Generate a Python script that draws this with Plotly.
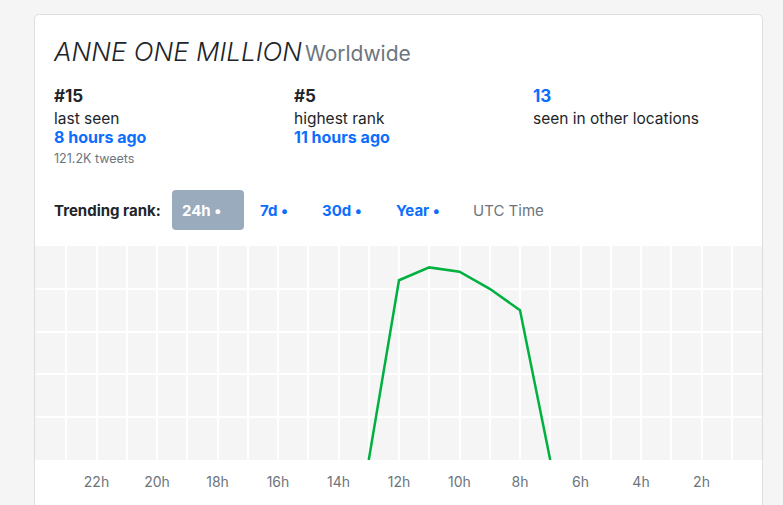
import plotly.graph_objects as go

# ---- data ----
hours_ago = [13, 12, 11, 10, 9, 8, 7]
ranks = [50, 8, 5, 6, 10, 15, 50]
tick_hours = [22, 20, 18, 16, 14, 12, 10, 8, 6, 4, 2]
tick_labels = [f"{h}h" for h in tick_hours]

title_main = "ANNE ONE MILLION"
title_loc = "Worldwide"
stats = [
    ("#15", "last seen", "8 hours ago", "121.2K tweets"),
    ("#5", "highest rank", "11 hours ago", None),
    ("13", "seen in other locations", None, None),
]
range_buttons = ["7d •", "30d •", "Year •"]

# ---- geometry ----
WIDTH, HEIGHT = 783, 505
ML, MR, MT, MB = 36, 21, 246, 45
PW = WIDTH - ML - MR
PH = HEIGHT - MT - MB


def px(x):
    return (x - ML) / PW


def py(y):
    return (HEIGHT - MB - y) / PH


FONT = "Inter, Roboto, sans-serif"
DARK = "#212529"
GRAY = "#6c757d"
BLUE = "#0d6efd"
BORDER = "#dedede"

fig = go.Figure()
fig.add_trace(go.Scatter(
    x=hours_ago, y=ranks, mode="lines",
    line=dict(color="#00b140", width=2.5),
    hoverinfo="skip", showlegend=False, cliponaxis=True,
))

annotations = []


def txt(x, y, text, size, color, weight=400, style="normal"):
    annotations.append(dict(
        x=px(x), y=py(y), xref="paper", yref="paper", text=text,
        showarrow=False, xanchor="left", yanchor="middle",
        font=dict(family=FONT, size=size, color=color, weight=weight, style=style),
        borderpad=0,
    ))


txt(52, 51, title_main, 26, DARK, weight=300, style="italic")
txt(304, 53, title_loc, 21, GRAY)

cols = [53, 293, 532]
for cx, (big, label, link, sub) in zip(cols, stats):
    big_color = BLUE if link is None else DARK
    txt(cx, 96, big, 17, big_color, weight=700)
    txt(cx, 118, label, 15.5, DARK)
    if link:
        txt(cx, 137, link, 16, BLUE, weight=700)
    if sub:
        txt(cx, 158, sub, 12.5, GRAY)

txt(53, 210, "Trending rank:", 15, DARK, weight=700)
txt(181, 210, "24h •", 15, "white", weight=700)
for bx, b in zip([259, 321, 395], range_buttons):
    txt(bx, 210, b, 15, BLUE, weight=700)
txt(472, 210, "UTC Time", 15, GRAY)


def rrect(x0, y0, x1, y1, r):
    X0, X1 = px(x0), px(x1)
    Y0, Y1 = py(y0), py(y1)
    rx, ry = r / PW, r / PH
    return (f"M {X0+rx},{Y0} L {X1-rx},{Y0} Q {X1},{Y0} {X1},{Y0-ry} "
            f"L {X1},{Y1+ry} Q {X1},{Y1} {X1-rx},{Y1} L {X0+rx},{Y1} "
            f"Q {X0},{Y1} {X0},{Y1+ry} L {X0},{Y0-ry} Q {X0},{Y0} {X0+rx},{Y0} Z")


def card_top_fill(x0, y0, x1, y1, r):
    X0, X1 = px(x0), px(x1)
    Y0, Y1 = py(y0), py(y1)
    rx, ry = r / PW, r / PH
    return (f"M {X0+rx},{Y0} L {X1-rx},{Y0} Q {X1},{Y0} {X1},{Y0-ry} "
            f"L {X1},{Y1} L {X0},{Y1} L {X0},{Y0-ry} Q {X0},{Y0} {X0+rx},{Y0} Z")


def card_border(x0, y0, x1, y1, r):
    X0, X1 = px(x0), px(x1)
    Y0, Y1 = py(y0), py(y1)
    rx, ry = r / PW, r / PH
    return (f"M {X0},{Y1} L {X0},{Y0-ry} Q {X0},{Y0} {X0+rx},{Y0} "
            f"L {X1-rx},{Y0} Q {X1},{Y0} {X1},{Y0-ry} L {X1},{Y1}")


shapes = [
    # card fill above plot area (no outline)
    dict(type="path", path=card_top_fill(34.5, 14.5, 762.5, 246, 5),
         xref="paper", yref="paper", fillcolor="white",
         line=dict(width=0), layer="below"),
    # card fill below plot area
    dict(type="rect", x0=px(34.5), x1=px(762.5), y0=py(460), y1=py(520),
         xref="paper", yref="paper", fillcolor="white", line=dict(width=0),
         layer="below"),
    # card outline (open path: sides + rounded top)
    dict(type="path", path=card_border(34.5, 14.5, 762.5, 520, 5),
         xref="paper", yref="paper", fillcolor="rgba(0,0,0,0)",
         line=dict(color=BORDER, width=1), layer="below"),
    # active range button
    dict(type="path", path=rrect(172, 190, 244, 230, 4), xref="paper", yref="paper",
         fillcolor="#9aabbd", line=dict(width=0), layer="below"),
]

fig.update_layout(
    width=WIDTH, height=HEIGHT,
    margin=dict(l=ML, r=MR, t=MT, b=MB, pad=0, autoexpand=False),
    paper_bgcolor="#f5f5f5", plot_bgcolor="#f5f5f5",
    annotations=annotations, shapes=shapes, showlegend=False,
    xaxis=dict(
        range=[24, 0], tickvals=tick_hours, ticktext=tick_labels,
        showgrid=True, gridcolor="white", gridwidth=2,
        minor=dict(dtick=1, tick0=0, showgrid=True, gridcolor="white", gridwidth=2),
        zeroline=False, showline=False, ticks="", ticklabelstandoff=12,
        tickfont=dict(family=FONT, size=14, color=GRAY), fixedrange=True,
    ),
    yaxis=dict(
        range=[50, 0], dtick=10, showticklabels=False, showgrid=True,
        gridcolor="white", gridwidth=2, zeroline=False, showline=False,
        fixedrange=True,
    ),
)

fig.write_html("out.html")
